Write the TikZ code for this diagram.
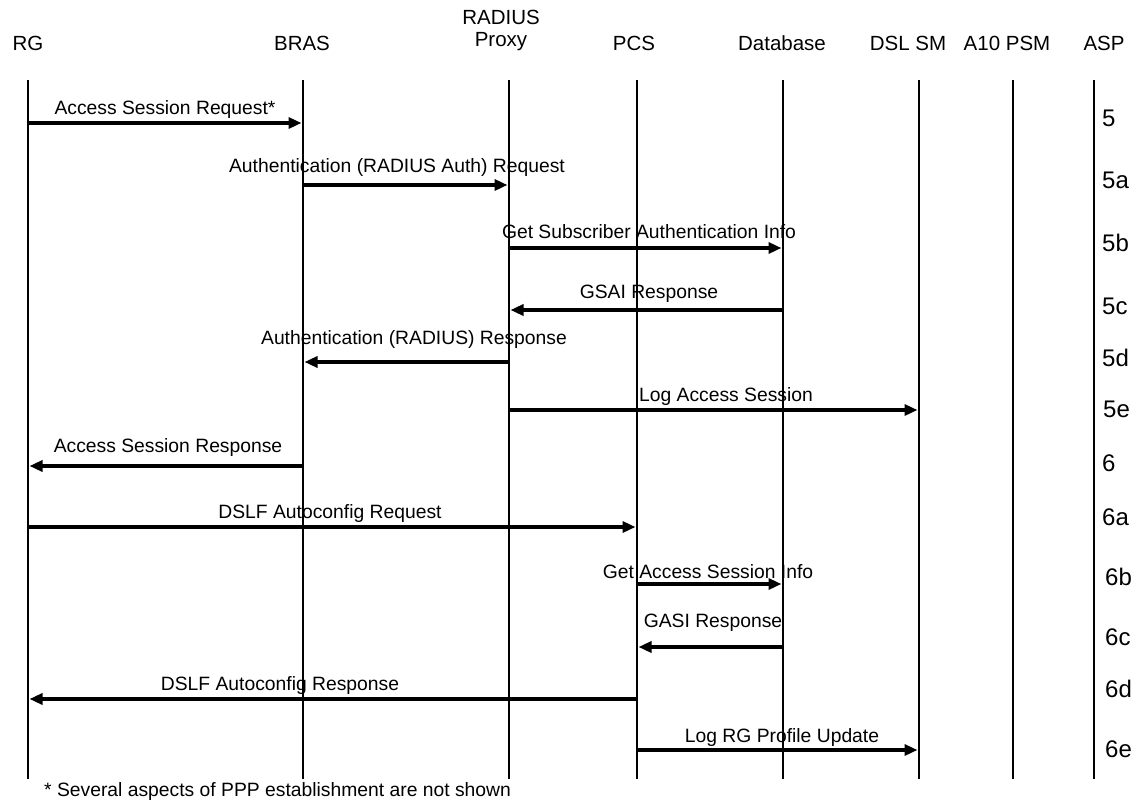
\documentclass[tikz,border=0pt]{standalone}
\usepackage{fontspec}
\setmainfont{Liberation Sans}
\usetikzlibrary{arrows.meta}
\begin{document}
\begin{tikzpicture}[x=1pt,y=-1pt,
  actor/.style={font=\fontsize{20.5}{22}\selectfont, align=center, inner sep=0pt},
  life/.style={line width=1.4pt, black},
  msg/.style={line width=3.4pt, -{Triangle[length=13pt,width=11pt]}, shorten >=1.5pt},
  msglabel/.style={font=\fontsize{19.3}{21}\selectfont, inner sep=0pt},
  steplabel/.style={font=\fontsize{24}{26}\selectfont, inner sep=0pt, anchor=west}]
\useasboundingbox (0,0) rectangle (1139,805);

% participants
\node[actor] (hRG)   at (28,43)  {RG};
\node[actor] (hBRAS) at (302,43) {BRAS};
\node[actor] (hRP)   at (501,30) {RADIUS\\Proxy};
\node[actor] (hPCS)  at (634,43) {PCS};
\node[actor] (hDB)   at (782,43) {Database};
\node[actor] (hDSL)  at (908,43) {DSL SM};
\node[actor] (hA10)  at (1007,43) {A10 PSM};
\node[actor] (hASP)  at (1104,43) {ASP};

% lifelines
\coordinate (RG)   at (28,80);
\coordinate (BRAS) at (303,80);
\coordinate (RP)   at (509,80);
\coordinate (PCS)  at (637,80);
\coordinate (DB)   at (783,80);
\coordinate (DSL)  at (919,80);
\coordinate (A10)  at (1013,80);
\coordinate (ASP)  at (1094,80);
\foreach \l in {RG,BRAS,RP,PCS,DB,DSL,A10,ASP}
  \draw[life] (\l) -- (\l |- 0,779);

% messages
\draw[msg] (RG |- 0,123) -- (BRAS |- 0,123);
\node[msglabel] (m1) at (165,110) {Access Session Request*};

\draw[msg] (BRAS |- 0,185) -- (RP |- 0,185);
\node[msglabel] (m2) at (397,168) {Authentication (RADIUS Auth) Request};

\draw[msg] (RP |- 0,248) -- (DB |- 0,248);
\node[msglabel] (m3) at (649,232) {Get Subscriber Authentication Info};

\draw[msg] (DB |- 0,310) -- (RP |- 0,310);
\node[msglabel] (m4) at (649,294) {GSAI Response};

\draw[msg] (RP |- 0,362) -- (BRAS |- 0,362);
\node[msglabel] (m5) at (414,340) {Authentication (RADIUS) Response};

\draw[msg] (RP |- 0,410) -- (DSL |- 0,410);
\node[msglabel] (m6) at (726,397) {Log Access Session};

\draw[msg] (BRAS |- 0,466) -- (RG |- 0,466);
\node[msglabel] (m7) at (168,448) {Access Session Response};

\draw[msg] (RG |- 0,527) -- (PCS |- 0,527);
\node[msglabel] (m8) at (330,514) {DSLF Autoconfig Request};

\draw[msg] (PCS |- 0,584) -- (DB |- 0,584);
\node[msglabel] (m9) at (708,572) {Get Access Session Info};

\draw[msg] (DB |- 0,647) -- (PCS |- 0,647);
\node[msglabel] (m10) at (713,623) {GASI Response};

\draw[msg] (PCS |- 0,699) -- (RG |- 0,699);
\node[msglabel] (m11) at (280,686) {DSLF Autoconfig Response};

\draw[msg] (PCS |- 0,750) -- (DSL |- 0,750);
\node[msglabel] (m12) at (782,738) {Log RG Profile Update};

% step numbers
\node[steplabel] (s5)  at (1102,118) {5};
\node[steplabel] (s5a) at (1102,180) {5a};
\node[steplabel] (s5b) at (1102,243) {5b};
\node[steplabel] (s5c) at (1102,306) {5c};
\node[steplabel] (s5d) at (1102,358) {5d};
\node[steplabel] (s5e) at (1103,409) {5e};
\node[steplabel] (s6)  at (1102,463) {6};
\node[steplabel] (s6a) at (1102,517) {6a};
\node[steplabel] (s6b) at (1105,577) {6b};
\node[steplabel] (s6c) at (1105,637) {6c};
\node[steplabel] (s6d) at (1105,689) {6d};
\node[steplabel] (s6e) at (1105,749) {6e};

% footnote
\node[msglabel, anchor=west] (note) at (44,791) {* Several aspects of PPP establishment are not shown};
\end{tikzpicture}
\end{document}
